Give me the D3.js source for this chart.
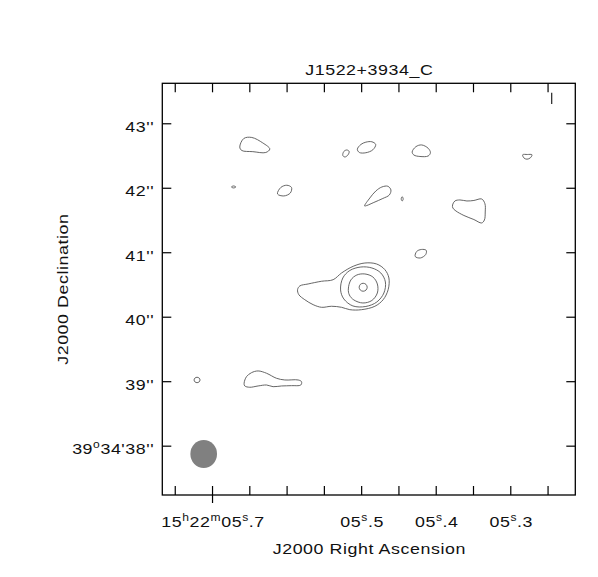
<!DOCTYPE html>
<html><head><meta charset="utf-8">
<script src="https://cdn.jsdelivr.net/npm/d3@7"></script>
<style>
html,body{margin:0;padding:0;background:#fff;}
svg{display:block;}
text{font-family:"Liberation Sans",Arial,Helvetica,sans-serif;fill:#111;font-size:15.5px;letter-spacing:0.5px;}
</style></head><body>
<svg id="chart" width="598" height="577"></svg>
<script>
// ---- data (RA in seconds of 15h22m, Dec in arcsec of +39d34') ----
const title = "J1522+3934_C";
const xTitle = "J2000 Right Ascension";
const yTitle = "J2000 Declination";
const raDomain = [5.7667, 5.2128];
const decDomain = [37.235, 43.620];
const raTicks = [5.75, 5.70, 5.65, 5.60, 5.55, 5.50, 5.45, 5.40, 5.35, 5.30, 5.25];
const raLabelValues = [5.70, 5.50, 5.40, 5.30];
const raLabelTexts = ["15h22m05s.7", "05s.5", "05s.4", "05s.3"];
const decTicks = [38, 39, 40, 41, 42, 43];
const decLabelTexts = ["39o34'38''", "39''", "40''", "41''", "42''", "43''"];
const beamMajArcsec = 0.434, beamMinArcsec = 0.413, sourceDec = 39.58;

// contour polylines [RA s, Dec "]
const blobNW = [[5.6628,42.632],[5.6574,42.764],[5.6467,42.780],[5.6319,42.695],[5.6225,42.601],[5.6279,42.547],[5.6453,42.560],[5.6601,42.578]];
const dotW = [[5.6740,42.012],[5.6711,42.028],[5.6681,42.012],[5.6711,41.997]];
const blobW = [[5.6122,41.904],[5.6078,42.004],[5.5997,42.039],[5.5934,42.004],[5.5950,41.919],[5.6037,41.873]];
const ovalN1 = [[5.5246,42.501],[5.5232,42.563],[5.5192,42.586],[5.5161,42.563],[5.5178,42.508],[5.5219,42.477]];
const ovalN2 = [[5.5051,42.597],[5.5004,42.671],[5.4937,42.707],[5.4856,42.713],[5.4805,42.671],[5.4843,42.589],[5.4937,42.543],[5.5024,42.547]];
const ovalN3 = [[5.4316,42.555],[5.4266,42.637],[5.4189,42.664],[5.4101,42.612],[5.4071,42.544],[5.4101,42.493],[5.4212,42.485],[5.4293,42.508]];
const teardrop = [[5.4954,41.718],[5.4883,41.842],[5.4803,41.950],[5.4722,42.012],[5.4642,42.023],[5.4601,41.966],[5.4622,41.888],[5.4709,41.834],[5.4830,41.772],[5.4924,41.725]];
const dotC = [[5.4463,41.826],[5.4450,41.862],[5.4436,41.826],[5.4450,41.795]];
const capNE = [[5.2833,42.512],[5.2771,42.516],[5.2709,42.512],[5.2730,42.465],[5.2776,42.443],[5.2817,42.462]];
const blobE = [[5.3774,41.733],[5.3743,41.795],[5.3676,41.811],[5.3582,41.795],[5.3488,41.803],[5.3384,41.826],[5.3340,41.752],[5.3336,41.624],[5.3347,41.500],[5.3384,41.454],[5.3488,41.507],[5.3622,41.570],[5.3729,41.640],[5.3770,41.686]];
const ovalE = [[5.4275,40.934],[5.4255,41.012],[5.4192,41.043],[5.4128,41.030],[5.4134,40.965],[5.4206,40.911]];
const coreL1 = [[5.5853,40.419],[5.5823,40.477],[5.5711,40.508],[5.5531,40.550],[5.5376,40.574],[5.5263,40.678],[5.5107,40.782],[5.4950,40.833],[5.4793,40.818],[5.4682,40.730],[5.4628,40.601],[5.4638,40.419],[5.4705,40.264],[5.4816,40.162],[5.4995,40.109],[5.5152,40.109],[5.5263,40.146],[5.5397,40.162],[5.5531,40.146],[5.5644,40.187],[5.5756,40.264],[5.5836,40.342]];
const coreL2 = [[5.5276,40.415],[5.5246,40.601],[5.5152,40.717],[5.5004,40.771],[5.4856,40.756],[5.4736,40.678],[5.4675,40.539],[5.4695,40.368],[5.4789,40.229],[5.4937,40.159],[5.5111,40.167],[5.5232,40.275]];
const coreL3 = [[5.5172,40.430],[5.5138,40.570],[5.5058,40.647],[5.4950,40.663],[5.4843,40.616],[5.4783,40.508],[5.4783,40.368],[5.4856,40.252],[5.4977,40.213],[5.5098,40.260],[5.5158,40.337]];
const coreL4 = [[5.5027,40.457],[5.5011,40.501],[5.4973,40.519],[5.4935,40.501],[5.4919,40.457],[5.4935,40.413],[5.4973,40.395],[5.5011,40.413]];
const dotSW = [[5.7241,39.019],[5.7229,39.049],[5.7201,39.061],[5.7173,39.049],[5.7161,39.019],[5.7173,38.989],[5.7201,38.977],[5.7229,38.989]];
const jetS = [[5.6570,38.968],[5.6538,39.070],[5.6471,39.132],[5.6382,39.159],[5.6269,39.123],[5.6135,39.045],[5.6024,39.019],[5.5845,39.019],[5.5800,38.993],[5.5809,38.941],[5.5934,38.931],[5.6068,38.926],[5.6181,38.915],[5.6269,38.941],[5.6382,38.926],[5.6494,38.906],[5.6561,38.926]];
const contours = [blobNW, dotW, blobW, ovalN1, ovalN2, ovalN3, teardrop, dotC, capNE, blobE, ovalE, coreL1, coreL2, coreL3, coreL4, dotSW, jetS];

// ---- layout ----
const svg = d3.select("#chart");
const x = d3.scaleLinear().domain(raDomain).range([162.3, 575.3]);
const y = d3.scaleLinear().domain(decDomain).range([495, 83.3]);
const [L, R] = x.range(); const [B, T] = y.range();
const tick = 9;
const stretch = 1.15;

// contours
const line = d3.line().x(d => x(d[0])).y(d => y(d[1])).curve(d3.curveCatmullRomClosed.alpha(0.5));
svg.append("g").selectAll("path").data(contours).join("path")
  .attr("d", line).attr("fill", "none").attr("stroke", "#555").attr("stroke-width", 0.9);

// beam
const cosd = Math.cos(sourceDec * Math.PI / 180);
const bx = L + 41.4, by = B - 41;
const rx = Math.abs(x(5.5) - x(5.5 + beamMinArcsec / 2 / (15 * cosd)));
const ry = Math.abs(y(40) - y(40 + beamMajArcsec / 2));
svg.append("ellipse").attr("cx", bx).attr("cy", by).attr("rx", rx).attr("ry", ry).attr("fill", "#808080");

// marker at top right
svg.append("line").attr("x1", R - 23.6).attr("x2", R - 23.6).attr("y1", T + 9.4).attr("y2", T + 20.7)
  .attr("stroke", "#222").attr("stroke-width", 1.2);

// axes (ticks inward)
function styleAxis(g) {
  g.select(".domain").remove();
  g.selectAll(".tick line").attr("stroke", "#000").attr("stroke-width", 1.2);
  g.selectAll(".tick text").remove();
}
const gb = svg.append("g").attr("transform", `translate(0,${B})`)
  .call(d3.axisBottom(x).tickValues(raTicks).tickSizeInner(-tick).tickSizeOuter(0).tickFormat(""));
styleAxis(gb);
gb.selectAll(".tick line").filter(d => Math.abs(d - raLabelValues[0]) < 1e-9).attr("y1", 8);
svg.append("g").attr("transform", `translate(0,${T})`)
  .call(d3.axisTop(x).tickValues(raTicks).tickSizeInner(-tick).tickSizeOuter(0).tickFormat("")).call(styleAxis);
svg.append("g").attr("transform", `translate(${L},0)`)
  .call(d3.axisLeft(y).tickValues(decTicks).tickSizeInner(-tick).tickSizeOuter(0).tickFormat("")).call(styleAxis);
svg.append("g").attr("transform", `translate(${R},0)`)
  .call(d3.axisRight(y).tickValues(decTicks).tickSizeInner(-tick).tickSizeOuter(0).tickFormat("")).call(styleAxis);

// frame
svg.append("rect").attr("x", L).attr("y", T).attr("width", R - L).attr("height", B - T)
  .attr("fill", "none").attr("stroke", "#000").attr("stroke-width", 1.3);

// text helper: stretched horizontally like the plotting-package font
function label(px, py, anchor, rot) {
  return svg.append("text")
    .attr("transform", `translate(${px},${py})${rot ? ` rotate(${rot})` : ""} scale(${stretch},1)`)
    .attr("text-anchor", anchor);
}
function richText(sel, str, supChars) {
  let up = false;
  for (const ch of str) {
    const isSup = supChars.includes(ch);
    const t = sel.append("tspan").text(ch);
    if (isSup && !up) { t.attr("dy", -6.5).style("font-size", "10.5px"); up = true; }
    else if (isSup && up) { t.style("font-size", "10.5px"); }
    else if (!isSup && up) { t.attr("dy", 6.5); up = false; }
  }
}
raLabelValues.forEach((v, i) => {
  richText(label(x(v) + 1, B + 32.4, "middle"), raLabelTexts[i], "hms");
});
decTicks.forEach((v, i) => {
  richText(label(L - 8, y(v) + 8.6, "end"), decLabelTexts[i], "o");
});

// titles
label((L + R) / 2 + 0.5, 75, "middle").text(title);
label((L + R) / 2 + 0.5, 554, "middle").text(xTitle);
label(67.5, (T + B) / 2, "middle", -90).text(yTitle);
</script>
</body></html>
